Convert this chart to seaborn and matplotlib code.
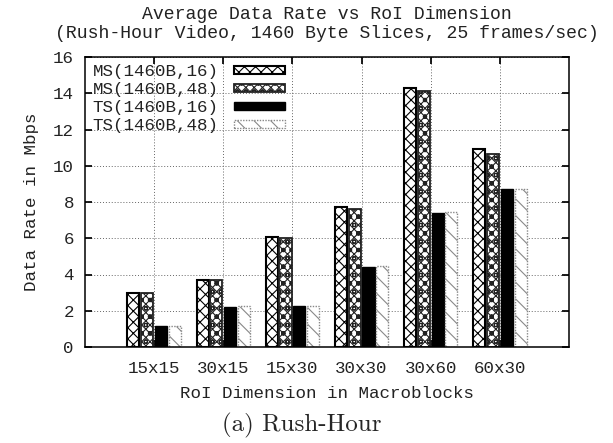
import numpy as np
import pandas as pd
import matplotlib
matplotlib.use("Agg")
import matplotlib.pyplot as plt
import seaborn as sns
from matplotlib.patches import Patch

categories = ["15x15", "30x15", "15x30", "30x30", "30x60", "60x30"]
series = ["MS(1460B,16)", "MS(1460B,48)", "TS(1460B,16)", "TS(1460B,48)"]
ms16 = [3.0, 3.7, 6.05, 7.7, 14.3, 10.95]
ms48 = [3.0, 3.7, 6.0, 7.6, 14.1, 10.65]
ts16 = [1.15, 2.2, 2.25, 4.4, 7.4, 8.7]
ts48 = [1.15, 2.25, 2.25, 4.45, 7.45, 8.7]
yticks = [0, 2, 4, 6, 8, 10, 12, 14, 16]

sns.set_theme(style="white")
mono = ["Liberation Mono", "DejaVu Sans Mono"]
plt.rcParams["font.family"] = mono
plt.rcParams["hatch.linewidth"] = 0.8

FS = 12.6

rows = []
for s, vals in zip(series, [ms16, ms48, ts16, ts48]):
    for c, v in zip(categories, vals):
        rows.append({"cat": c, "series": s, "value": v})
df = pd.DataFrame(rows)

fig = plt.figure(figsize=(6.13, 4.43), dpi=100)
ax = fig.add_axes([85 / 613, (443 - 347) / 443, 484 / 613, 290 / 443])

sns.barplot(data=df, x="cat", y="value", hue="series", order=categories,
            hue_order=series, ax=ax, width=0.8, gap=0.13, legend=False,
            errorbar=None)

styles = [
    dict(facecolor="white", edgecolor="black", hatch="xxx", lw=1.5),
    dict(facecolor="white", edgecolor="#222222", hatch="xxxxoo", lw=1.3),
    dict(facecolor="black", edgecolor="black", hatch=None, lw=1.0),
    dict(facecolor="white", edgecolor="#888888", hatch="\\\\", lw=1.0),
]
n = len(categories)
for i, p in enumerate(ax.patches[:n * len(series)]):
    st = styles[i // n]
    p.set_facecolor(st["facecolor"])
    p.set_edgecolor(st["edgecolor"])
    p.set_hatch(st["hatch"])
    p.set_linewidth(st["lw"])
    if i // n == 3:
        p.set_linestyle((0, (1, 1)))

ax.set_xlim(-1, 6)
ax.set_ylim(0, 16)
ax.set_yticks(yticks)
ax.set_yticklabels([str(t) for t in yticks])
ax.set_xticks(range(n))
ax.set_xticklabels(categories)
ax.tick_params(axis="both", direction="in", length=5, labelsize=FS,
               top=True, right=True, bottom=True, left=True,
               colors="black", labelcolor="#222222")
ax.tick_params(axis="x", pad=10)
ax.tick_params(axis="y", pad=8)
ax.grid(True, linestyle=(0, (1, 2)), color="#666666", linewidth=0.7)
ax.set_axisbelow(True)
for sp in ax.spines.values():
    sp.set_color("black")
    sp.set_linewidth(1.1)

ax.set_xlabel("RoI Dimension in Macroblocks", fontsize=FS, labelpad=7,
              color="#222222")
ax.set_ylabel("Data Rate in Mbps", fontsize=FS, labelpad=10, color="#222222")
ax.set_title("Average Data Rate vs RoI Dimension\n(Rush-Hour Video, 1460 Byte Slices, 25 frames/sec)",
             fontsize=13.1, pad=14, linespacing=1.15, color="#222222")

handles = []
for s, st in zip(series, styles):
    h = Patch(facecolor=st["facecolor"], edgecolor=st["edgecolor"],
              hatch=st["hatch"], linewidth=st["lw"], label=s)
    handles.append(h)
leg = ax.legend(handles=handles, loc="upper left", frameon=False,
                markerfirst=False, fontsize=FS, handlelength=2.9,
                handleheight=0.4, labelspacing=0.17, borderaxespad=0.0,
                borderpad=0.0, bbox_to_anchor=(0.016, 0.975),
                handletextpad=0.9)
for t in leg.get_texts():
    t.set_color("#222222")
for lh in leg.legend_handles:
    if lh.get_hatch() == "\\\\":
        lh.set_linestyle((0, (1, 1)))

fig.text(302 / 613, 1 - 425 / 443, "(a) Rush-Hour", ha="center", va="center",
         fontsize=18, family=["cmr10", "DejaVu Serif"])

fig.savefig("out.png", dpi=100)
